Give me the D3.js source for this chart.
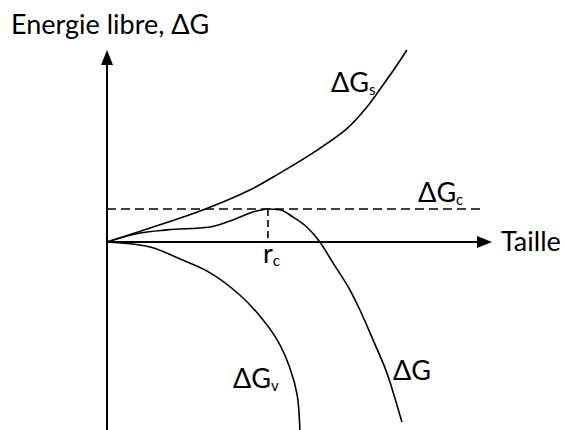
<!DOCTYPE html>
<html>
<head>
<meta charset="utf-8">
<script src="https://cdn.jsdelivr.net/npm/d3@7"></script>
<style>
  body { margin: 0; background: #fff; }
  text { font-family: Lato, "Open Sans", sans-serif; fill: #000; }
</style>
</head>
<body>
<svg id="chart" width="564" height="430"></svg>
<script>
// curves, as [size, energy] pairs (arbitrary units)
const surfacePoints = [[0, 0], [11.2, 7.3], [24.9, 16.7], [37.1, 27.1], [44.9, 35.9],
  [53.5, 46.4], [62.3, 59], [67.5, 70.3], [71.7, 81.8], [74.8, 90.6], [77.9, 100]];
const volumePoints = [[0, 0], [11.2, -2.6], [19, -8.9], [26.8, -16.1], [34.5, -27.6],
  [39.7, -38.5], [44.2, -51], [47.5, -65.6], [49.4, -79.7], [50.1, -97.9]];
const totalPoints = [[0, 0], [8.6, 4.7], [15.6, 6.3], [26.8, 7.8], [32.7, 11.5],
  [37.9, 15.6], [41.8, 17.2], [44.9, 16.8], [48.3, 13], [51.9, 7.8], [55.3, 0],
  [58.7, -10.9], [63.1, -25], [65.7, -35.4], [69.1, -51], [72.7, -68.2], [76.6, -93.8]];
const criticalSize = 41.8;
const criticalEnergy = 17.2;

const svg = d3.select("#chart");

// origin of the drawing sits at (107, 242)
let x = d3.scaleLinear().domain([0, 100]).range([107, 492]);
let y = d3.scaleLinear().domain([-100, 100]).range([434, 50]);

function makeLine(curve)
{
  return d3.line()
    .x(function (d) { return x(d[0]); })
    .y(function (d) { return y(d[1]); })
    .curve(curve);
}
let smoothLine = makeLine(d3.curveCatmullRom.alpha(0.5));
let peakLine = makeLine(d3.curveMonotoneX);

// axes with arrow heads
svg.append("line")
  .attr("x1", x(0)).attr("y1", 430)
  .attr("x2", x(0)).attr("y2", y(100) + 12)
  .style("stroke", "#000").style("stroke-width", 2);
svg.append("path")
  .attr("d", "M" + x(0) + "," + y(100) + "L" + (x(0) - 6) + "," + (y(100) + 15) +
    "L" + (x(0) + 6) + "," + (y(100) + 15) + "Z")
  .style("fill", "#000");

svg.append("line")
  .attr("x1", x(0)).attr("y1", y(0))
  .attr("x2", x(100) - 12).attr("y2", y(0))
  .style("stroke", "#000").style("stroke-width", 2);
svg.append("path")
  .attr("d", "M" + x(100) + "," + y(0) + "L" + (x(100) - 15) + "," + (y(0) - 6) +
    "L" + (x(100) - 15) + "," + (y(0) + 6) + "Z")
  .style("fill", "#000");

// critical barrier, dashed
svg.append("line")
  .attr("x1", x(0)).attr("y1", y(criticalEnergy))
  .attr("x2", x(97)).attr("y2", y(criticalEnergy))
  .style("stroke", "#000").style("stroke-width", 1.6)
  .style("stroke-dasharray", "9,5");
svg.append("line")
  .attr("x1", x(criticalSize)).attr("y1", y(criticalEnergy))
  .attr("x2", x(criticalSize)).attr("y2", y(0))
  .style("stroke", "#000").style("stroke-width", 1.6)
  .style("stroke-dasharray", "7,4");

// the three curves
[[surfacePoints, smoothLine], [volumePoints, smoothLine], [totalPoints, peakLine]].forEach(function (c)
{
  svg.append("path")
    .attr("d", c[1](c[0]))
    .style("fill", "none")
    .style("stroke", "#000")
    .style("stroke-width", 1.6);
});

// labels
function label(px, py, main, sub)
{
  let t = svg.append("text")
    .attr("x", px).attr("y", py)
    .style("font-size", "27px")
    .text(main);
  if (sub)
  {
    t.append("tspan")
      .attr("dy", 3)
      .style("font-size", "15px")
      .text(sub);
  }
  return t;
}

label(11, 34, "Energie libre, ΔG");
label(x(100) + 9, y(0) + 9, "Taille");
label(x(58.7) - 2, y(78.1), "ΔG", "s");
label(x(80.8), y(20.8), "ΔG", "c");
label(x(32.7), y(-76), "ΔG", "v");
label(x(74.3), y(-71.9), "ΔG");
label(x(criticalSize) - 5, y(-11), "r", "c");
</script>
</body>
</html>
